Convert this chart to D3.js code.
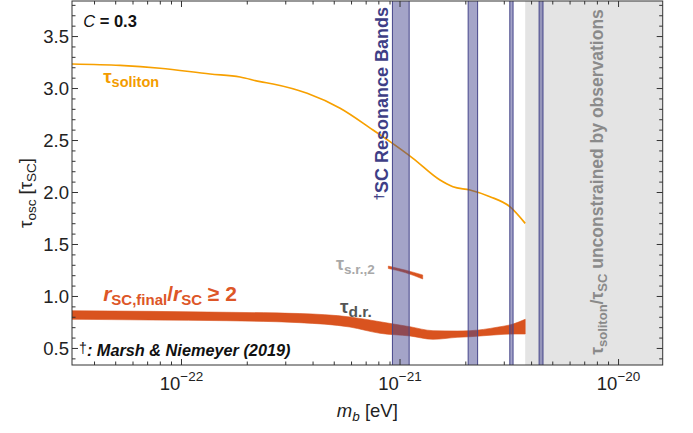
<!DOCTYPE html>
<html><head><meta charset="utf-8">
<script src="https://cdn.jsdelivr.net/npm/d3@7"></script>
<style>
body{margin:0;background:#fff}
text{font-family:"Liberation Sans",Arial,Helvetica,sans-serif}
</style>
</head><body>
<svg id="c" width="693" height="433"></svg>
<script>
// ---------- data ----------
const solitonMass = [3.155e-23,5.24e-23,7.98e-23,1.352e-22,1.854e-22,2.29e-22,2.625e-22,3.76e-22,5.32e-22,7.52e-22,9.0e-22,1.146e-21,1.524e-21,1.746e-21,2.089e-21,2.58e-21,3.18e-21,3.74e-21];
const solitonTau  = [3.236,3.222,3.195,3.140,3.111,3.066,3.044,2.954,2.810,2.601,2.489,2.329,2.120,2.056,2.024,1.960,1.864,1.703];

const drMass  = [3.155e-23,7.18e-23,1.614e-22,3.48e-22,5.90e-22,8.09e-22,1.111e-21,1.416e-21,1.824e-21,2.089e-21,2.78e-21,3.29e-21,3.74e-21];
const drUpper = [0.863,0.857,0.848,0.836,0.803,0.757,0.709,0.671,0.668,0.671,0.704,0.735,0.781];
const drLower = [0.781,0.774,0.767,0.748,0.706,0.646,0.620,0.588,0.607,0.613,0.632,0.639,0.639];

const srMass  = [8.84e-22,1.054e-21,1.27e-21];
const srUpper = [1.293,1.255,1.207];
const srLower = [1.269,1.230,1.168];

const bandLo = [9.23e-22,2.05e-21,3.18e-21,4.33e-21];
const bandHi = [1.101e-21,2.265e-21,3.29e-21,4.51e-21];

const grayStart = 3.74e-21;

const yMajor = [0.5,1.0,1.5,2.0,2.5,3.0,3.5];
const yMajorLabels = ["0.5","1.0","1.5","2.0","2.5","3.0","3.5"];
const xMajor = [1e-22,1e-21,1e-20];
const xMajorExp = ["\u221222","\u221221","\u221220"];

// ---------- scales ----------
const svg = d3.select("#c");
const L=72, R=662.7, T=1, B=365;
const x = d3.scaleLog().domain([Math.pow(10,-22.501),Math.pow(10,-19.798)]).range([L,R]);
const y = d3.scaleLinear().domain([0.341,3.842]).range([B,T]);

svg.append("defs").append("clipPath").attr("id","clip")
  .append("rect").attr("x",L).attr("y",T).attr("width",R-L).attr("height",B-T);
const plot = svg.append("g").attr("clip-path","url(#clip)");

// gray region
plot.append("rect").attr("x",x(grayStart)).attr("y",T).attr("width",R-x(grayStart)).attr("height",B-T)
  .attr("fill","#e4e4e4");

// d.r. band
const drData = drMass.map((m,i)=>({m,u:drUpper[i],l:drLower[i]}));
const area = d3.area().x(d=>x(d.m)).y0(d=>y(d.l)).y1(d=>y(d.u)).curve(d3.curveMonotoneX);
plot.append("path").datum(drData).attr("d",area).attr("fill","#d9531f").attr("stroke","#d9531f").attr("stroke-width",0.6);

// s.r.,2 streak
const srData = srMass.map((m,i)=>({m,u:srUpper[i],l:srLower[i]}));
plot.append("path").datum(srData).attr("d",area).attr("fill","#d9531f").attr("stroke","#d9531f").attr("stroke-width",0.5);

// soliton line
const solData = solitonMass.map((m,i)=>({m,t:solitonTau[i]}));
plot.append("path").datum(solData)
  .attr("d",d3.line().x(d=>x(d.m)).y(d=>y(d.t)).curve(d3.curveMonotoneX))
  .attr("fill","none").attr("stroke","#f7a000").attr("stroke-width",1.7);

// resonance bands
bandLo.forEach((lo,i)=>{
  plot.append("rect").attr("x",x(lo)).attr("y",T-2).attr("width",x(bandHi[i])-x(lo)).attr("height",B-T+4)
    .attr("fill","rgb(64,64,140)").attr("fill-opacity",0.48)
    .attr("stroke","#45458a").attr("stroke-width",1);
});

// ---------- rich text helper ----------
function rich(g, parts){
  parts.forEach(p=>{
    const ts=g.append("tspan").text(p.t);
    if(p.s) ts.attr("font-size",p.s);
    if(p.dy) ts.attr("dy",p.dy);
    if(p.it) ts.attr("font-style","italic");
    if(p.w) ts.attr("font-weight",p.w);
  });
  return g;
}

// C = 0.3
rich(svg.append("text").attr("x",x(3.55e-23)).attr("y",y(3.595)).attr("font-size",16.5).attr("fill","#111"),
  [{t:"C",it:1},{t:" = 0.3",w:"bold"}]);

// tau soliton label
rich(svg.append("text").attr("x",x(4.38e-23)).attr("y",y(3.053)).attr("font-size",19).attr("font-weight","bold").attr("fill","#f39c00"),
  [{t:"\u03c4"},{t:"soliton",s:14.5,dy:4}]);

// r_SC,final/r_SC >= 2
rich(svg.append("text").attr("x",x(4.38e-23)).attr("y",y(0.959)).attr("font-size",21).attr("font-weight","bold").attr("fill","#dd5627"),
  [{t:"r",it:1},{t:"SC,final",s:15,dy:4},{t:"/",dy:-4},{t:"r",it:1},{t:"SC",s:15,dy:4},{t:" \u2265 2",dy:-4}]);

// tau d.r.
rich(svg.append("text").attr("x",x(5.32e-22)).attr("y",y(0.841)).attr("font-size",19).attr("font-weight","bold").attr("fill","#555"),
  [{t:"\u03c4"},{t:"d.r.",s:15.5,dy:4}]);

// tau s.r.,2
rich(svg.append("text").attr("x",x(5.09e-22)).attr("y",y(1.255)).attr("font-size",18).attr("font-weight","bold").attr("fill","#a8a8a8"),
  [{t:"\u03c4"},{t:"s.r.,2",s:13.5,dy:4}]);

// Marsh & Niemeyer
rich(svg.append("text").attr("x",x(3.40e-23)).attr("y",y(0.428)).attr("font-size",16.3).attr("fill","#111"),
  [{t:"\u2020",s:14,dy:-3},{t:": Marsh & Niemeyer (2019)",dy:3,w:"bold",it:1}]);

// SC Resonance Bands (vertical)
{
  const px=x(8.84e-22), py=y(2.855);
  rich(svg.append("text").attr("transform",`translate(${px},${py}) rotate(-90)`).attr("text-anchor","middle")
    .attr("font-size",18).attr("font-weight","bold").attr("fill","#3e3e86"),
    [{t:"\u2020",s:13,dy:-5},{t:"SC Resonance Bands",dy:5}]);
}
// unconstrained text (vertical)
{
  const px=x(8.49e-21), py=y(2.101);
  rich(svg.append("text").attr("transform",`translate(${px},${py}) rotate(-90)`).attr("text-anchor","middle")
    .attr("font-size",17.5).attr("font-weight","bold").attr("fill","#8a8a8a"),
    [{t:"\u03c4"},{t:"soliton",s:13,dy:4},{t:"/\u03c4",dy:-4},{t:"SC",s:13,dy:4},{t:" unconstrained by observations",dy:-4}]);
}

// ---------- frame and ticks ----------
const frame = svg.append("g").attr("stroke","#333").attr("stroke-width",1);
frame.append("rect").attr("x",L).attr("y",T).attr("width",R-L).attr("height",B-T).attr("fill","none");

// y ticks
const yMinor = d3.range(4,39).map(v=>v/10).filter(v=>!yMajor.some(m=>Math.abs(m-v)<1e-9));
yMajor.forEach(v=>{
  frame.append("line").attr("x1",L).attr("x2",L+6).attr("y1",y(v)).attr("y2",y(v));
  frame.append("line").attr("x1",R).attr("x2",R-6).attr("y1",y(v)).attr("y2",y(v));
});
yMinor.forEach(v=>{
  if(y(v)<T||y(v)>B) return;
  frame.append("line").attr("x1",L).attr("x2",L+3.5).attr("y1",y(v)).attr("y2",y(v));
  frame.append("line").attr("x1",R).attr("x2",R-3.5).attr("y1",y(v)).attr("y2",y(v));
});
yMajor.forEach((v,i)=>{
  svg.append("text").attr("x",L-3).attr("y",y(v)).attr("dy","0.36em").attr("text-anchor","end")
    .attr("font-size",18.5).attr("fill","#222").text(yMajorLabels[i]);
});

// x ticks
const xMinor=[];
[-23,-22,-21,-20].forEach(k=>{ for(let d=2;d<=9;d++){ const v=d*Math.pow(10,k); if(v>x.domain()[0]&&v<x.domain()[1]) xMinor.push(v);} });
xMajor.forEach(v=>{
  frame.append("line").attr("x1",x(v)).attr("x2",x(v)).attr("y1",B).attr("y2",B-6);
  frame.append("line").attr("x1",x(v)).attr("x2",x(v)).attr("y1",T).attr("y2",T+6);
});
xMinor.forEach(v=>{
  frame.append("line").attr("x1",x(v)).attr("x2",x(v)).attr("y1",B).attr("y2",B-3.5);
  frame.append("line").attr("x1",x(v)).attr("x2",x(v)).attr("y1",T).attr("y2",T+3.5);
});
xMajor.forEach((v,i)=>{
  rich(svg.append("text").attr("x",x(v)).attr("y",390).attr("text-anchor","middle").attr("font-size",18.5).attr("fill","#222"),
    [{t:"10"},{t:xMajorExp[i],s:13.5,dy:-9}]);
});

// axis labels
rich(svg.append("text").attr("x",(L+R)/2).attr("y",417).attr("text-anchor","middle").attr("font-size",18.5).attr("fill","#222"),
  [{t:"m",it:1},{t:"b",it:1,s:13.5,dy:4},{t:" [eV]",dy:-4}]);
rich(svg.append("text").attr("transform","translate(32,193) rotate(-90)").attr("text-anchor","middle").attr("font-size",18.5).attr("fill","#222"),
  [{t:"\u03c4"},{t:"osc",s:13.5,dy:4},{t:" [\u03c4",dy:-4},{t:"SC",s:13.5,dy:4},{t:"]",dy:-4}]);
</script>
</body></html>
